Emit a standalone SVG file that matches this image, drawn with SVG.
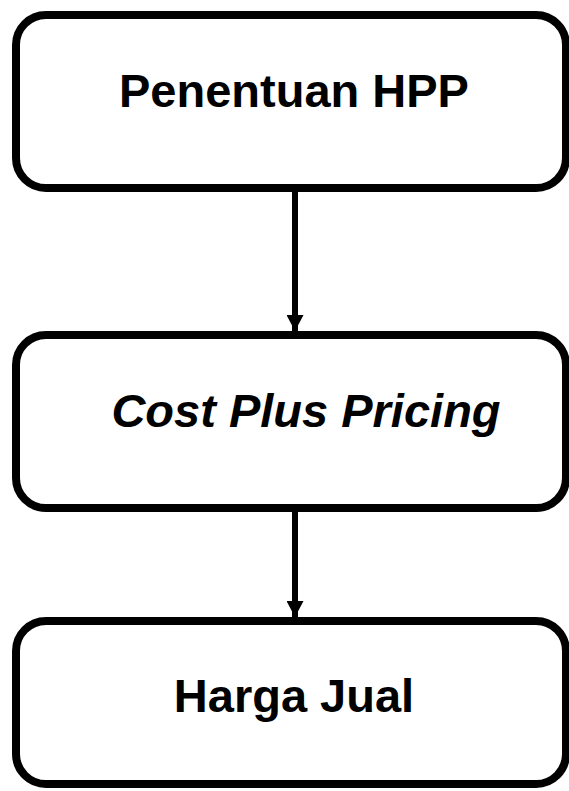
<svg xmlns="http://www.w3.org/2000/svg" width="569" height="791" viewBox="0 0 569 791">
<defs>
<style>
.box{fill:#fff;stroke:#000;stroke-width:8}
.lbl{font-family:"Liberation Sans",Arial,sans-serif;font-weight:bold;font-size:47px;text-anchor:middle;fill:#000}
.conn{stroke:#000;stroke-width:6;fill:none}
</style>
<marker id="ah" markerWidth="16" markerHeight="17" refX="16" refY="8.5" orient="auto" markerUnits="userSpaceOnUse" viewBox="0 0 16 17">
<path d="M0,0 L16,8.5 L0,17 Z" fill="#000"/>
</marker>
</defs>
<g id="connectors">
<line class="conn" x1="295" y1="188" x2="295" y2="331" marker-end="url(#ah)"/>
<line class="conn" x1="295" y1="508" x2="295" y2="617" marker-end="url(#ah)"/>
</g>
<g id="node1">
<rect class="box" x="16" y="15" width="550" height="173" rx="30"/>
<text class="lbl" x="294" y="107">Penentuan HPP</text>
</g>
<g id="node2">
<rect class="box" x="16" y="335" width="550" height="173" rx="30"/>
<text class="lbl" x="306" y="427" font-style="italic">Cost Plus Pricing</text>
</g>
<g id="node3">
<rect class="box" x="16" y="621" width="550" height="163" rx="30"/>
<text class="lbl" x="294" y="712">Harga Jual</text>
</g>
</svg>
